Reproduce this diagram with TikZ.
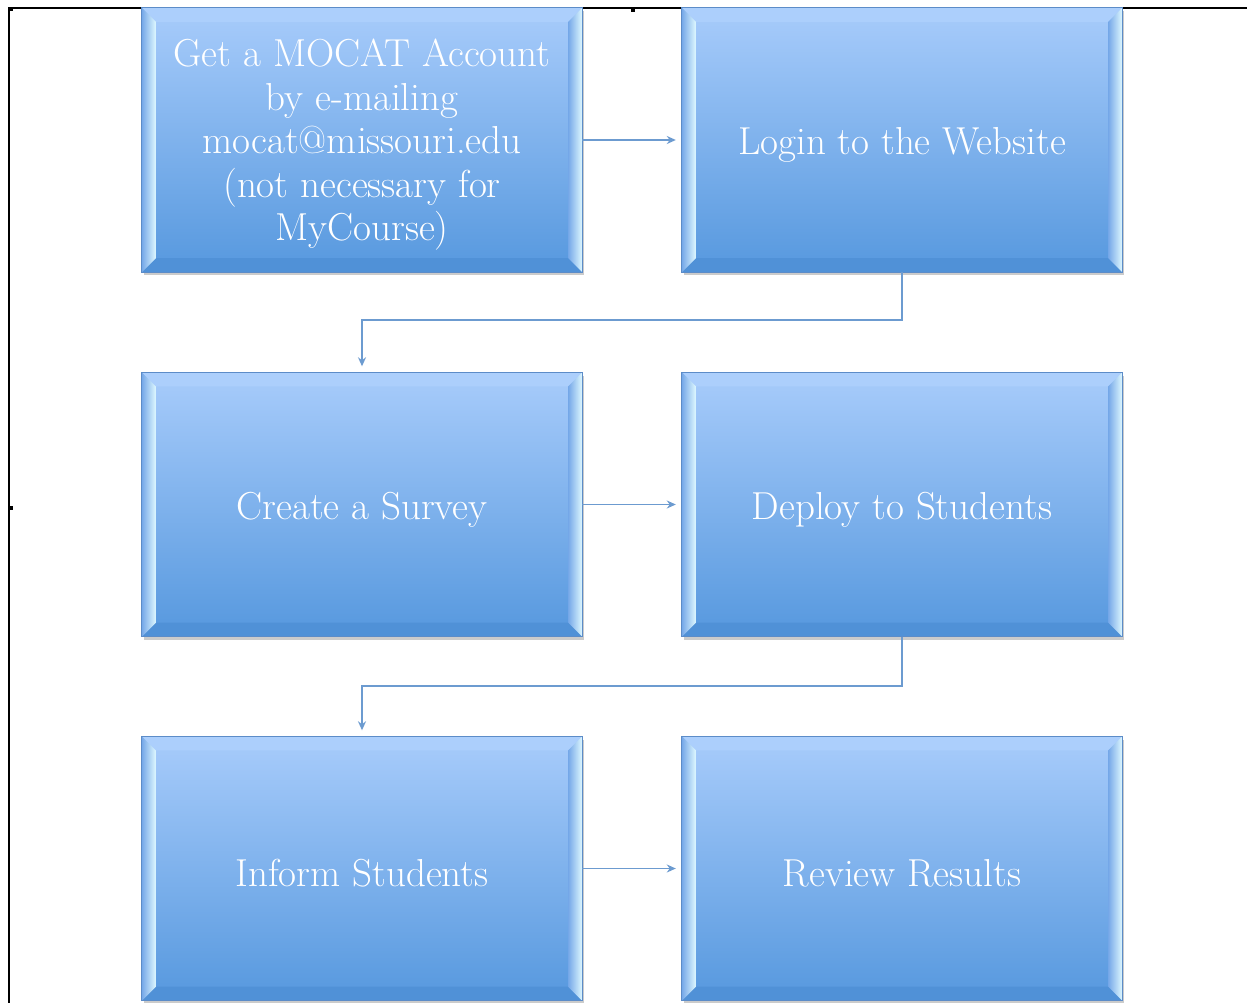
\documentclass[tikz,border=0pt]{standalone}
\usetikzlibrary{calc,shadows,arrows.meta}
\definecolor{facetop}{RGB}{168,204,251}
\definecolor{facebot}{RGB}{86,152,222}
\definecolor{topbev}{RGB}{172,207,252}
\definecolor{botbev}{RGB}{80,145,215}
\definecolor{bevin}{RGB}{222,248,255}
\definecolor{bevout}{RGB}{118,168,232}
\definecolor{boxedge}{RGB}{92,140,200}
\definecolor{conncol}{RGB}{108,155,208}
\tikzset{
  stepbox/.style={minimum width=440pt, minimum height=264pt, inner sep=0pt,
    top color=facetop, bottom color=facebot,
    drop shadow={shadow xshift=1.5pt, shadow yshift=-3pt, fill=black!45, opacity=0.45},
    label={[steptext]center:#1}},
  steptext/.style={text=white, font=\fontsize{39}{43.5}\selectfont, align=center, yshift=-5pt, inner sep=0pt},
  conn/.style={draw=conncol, line width=1.6pt, -{Stealth[length=9pt,width=8pt]}, shorten >=6pt},
  frameline/.style={line width=1.3pt, draw=black}
}
\newcommand\bevelize[1]{%
  \fill[topbev] (#1.north west) -- (#1.north east) -- ($(#1.north east)+(-14,14)$) -- ($(#1.north west)+(14,14)$) -- cycle;
  \fill[botbev] (#1.south west) -- (#1.south east) -- ($(#1.south east)+(-14,-14)$) -- ($(#1.south west)+(14,-14)$) -- cycle;
  \path[left color=bevout, right color=bevin] (#1.north west) -- ($(#1.north west)+(14,14)$) -- ($(#1.south west)+(14,-14)$) -- (#1.south west) -- cycle;
  \path[left color=bevout, right color=bevin] (#1.north east) -- ($(#1.north east)+(-14,14)$) -- ($(#1.south east)+(-14,-14)$) -- (#1.south east) -- cycle;
  \draw[boxedge, line width=0.8pt] (#1.north west) rectangle (#1.south east);
}
\begin{document}
\begin{tikzpicture}[x=1pt,y=-1pt]
\useasboundingbox[fill=white] (0,0) rectangle (1247,1003);
% frame
\draw[frameline] (9,1003) -- (9,8) -- (1247,8);
\fill (9,8) rectangle (12.5,11.5);
\fill (631,8) rectangle (635,12);
\fill (9,506) rectangle (13,510);
% boxes
\node[stepbox={Get a MOCAT Account\\by e-mailing\\mocat@missouri.edu\\(not necessary for\\MyCourse)}] (mocat) at (362,140) {};
\bevelize{mocat}
\node[stepbox={Login to the Website}] (login) at (902,140) {};
\bevelize{login}
\node[stepbox={Create a Survey}] (survey) at (362,504.5) {};
\bevelize{survey}
\node[stepbox={Deploy to Students}] (deploy) at (902,504.5) {};
\bevelize{deploy}
\node[stepbox={Inform Students}] (inform) at (362,868.5) {};
\bevelize{inform}
\node[stepbox={Review Results}] (review) at (902,868.5) {};
\bevelize{review}
% connectors
\draw[conn] (mocat.east) -- (login.west);
\draw[conn] (login.south) -- ++(0,48) -| (survey.north);
\draw[conn] (survey.east) -- (deploy.west);
\draw[conn] (deploy.south) -- ++(0,49) -| (inform.north);
\draw[conn] (inform.east) -- (review.west);
\end{tikzpicture}
\end{document}
